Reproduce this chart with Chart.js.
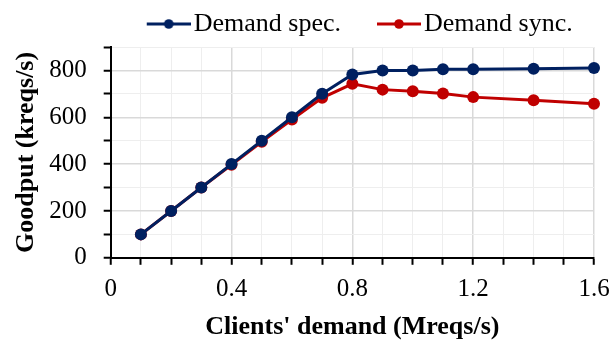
<!DOCTYPE html>
<html>
<head>
<meta charset="utf-8">
<script src="https://cdn.jsdelivr.net/npm/chart.js@4/dist/chart.umd.min.js"></script>
<style>
  html, body { margin: 0; padding: 0; background: #fff; }
  #wrap { width: 611px; height: 343px; }
</style>
</head>
<body>
<div id="wrap"><canvas id="c" width="611" height="343"></canvas></div>
<script>
// Client demand (Mreqs/s) on the x axis
const demand = [0.1, 0.2, 0.3, 0.4, 0.5, 0.6, 0.7, 0.8, 0.9, 1.0, 1.1, 1.2, 1.4, 1.6];
// Goodput (kreqs/s) for each scheme
const specGoodput = [100, 200, 300, 400, 500, 600, 700, 783, 800, 800, 805, 805, 807, 810];
const syncGoodput = [100, 200, 300, 397, 495, 590, 683, 743, 718, 711, 701, 686, 673, 658];
const seriesNames = ['Demand spec.', 'Demand sync.'];
// Labelled ticks
const xTickLabels = ['0', '0.4', '0.8', '1.2', '1.6'];
const yTickLabels = ['0', '200', '400', '600', '800'];

const BLUE = '#002060';
const RED = '#c00000';
const SERIF = "'Liberation Serif', 'Times New Roman', serif";

// Legend marker: a short line with a dot, drawn on a small canvas
function legendMarker(color) {
  const cv = document.createElement('canvas');
  cv.width = 85; cv.height = 14;
  const g = cv.getContext('2d');
  g.strokeStyle = color;
  g.lineWidth = 3;
  g.beginPath();
  g.moveTo(41, 7); g.lineTo(85, 7);
  g.stroke();
  g.fillStyle = color;
  g.beginPath();
  g.arc(63, 7, 4.8, 0, Math.PI * 2);
  g.fill();
  return cv;
}
const markers = [legendMarker(BLUE), legendMarker(RED)];

function toPoints(ys) {
  return demand.map((x, i) => ({ x: x, y: ys[i] }));
}

function xLabel(v) {
  const hit = xTickLabels.find(l => Math.abs(parseFloat(l) - v) < 1e-6);
  return hit === undefined ? '' : hit;
}
function yLabel(v) {
  const hit = yTickLabels.find(l => Math.abs(parseFloat(l) - v) < 1e-6);
  return hit === undefined ? '' : hit;
}
const isMajorX = v => Math.round(v * 10) % 4 === 0;
const isMajorY = v => Math.round(v) % 200 === 0;

const lineStyle = color => ({
  borderColor: color,
  backgroundColor: color,
  borderWidth: 3,
  pointRadius: 6,
  pointHoverRadius: 6,
  pointBackgroundColor: color,
  pointBorderColor: color,
  pointBorderWidth: 0,
  tension: 0,
  clip: false,
  fill: false
});

new Chart(document.getElementById('c'), {
  type: 'line',
  data: {
    datasets: [
      Object.assign({ label: seriesNames[0], data: toPoints(specGoodput) }, lineStyle(BLUE)),
      Object.assign({ label: seriesNames[1], data: toPoints(syncGoodput) }, lineStyle(RED))
    ]
  },
  options: {
    responsive: false,
    animation: false,
    devicePixelRatio: 1,
    layout: { padding: 0 },
    plugins: {
      tooltip: { enabled: false },
      legend: {
        display: true,
        position: 'top',
        align: 'start',
        fullSize: false,
        labels: {
          usePointStyle: true,
          pointStyleWidth: 65,
          padding: 5,
          color: '#000',
          font: { family: SERIF, size: 26 },
          generateLabels: chart => {
            const items = Chart.defaults.plugins.legend.labels.generateLabels(chart);
            return items.map((it, i) => Object.assign(it, { pointStyle: markers[i] }));
          }
        }
      }
    },
    scales: {
      x: {
        type: 'linear',
        min: 0,
        max: 1.6,
        border: { display: true, color: '#000', width: 2 },
        grid: {
          color: c => isMajorX(c.tick.value) ? '#d9d9d9' : '#eeeeee',
          lineWidth: c => isMajorX(c.tick.value) ? 1.5 : 1,
          drawTicks: true,
          tickLength: 7,
          tickColor: '#000',
          tickWidth: 2
        },
        ticks: {
          stepSize: 0.1,
          autoSkip: false,
          maxRotation: 0,
          padding: 10,
          color: '#000',
          font: { family: SERIF, size: 25 },
          callback: v => xLabel(v)
        },
        title: {
          display: true,
          text: "Clients' demand (Mreqs/s)",
          color: '#000',
          font: { family: SERIF, size: 26, weight: 'bold' },
          padding: { top: -3, bottom: 0 }
        },
        // room on the right for the last tick label only
        afterFit: scale => { scale.paddingRight = 17; }
      },
      y: {
        type: 'linear',
        min: 0,
        max: 900,
        border: { display: true, color: '#000', width: 2 },
        grid: {
          color: c => isMajorY(c.tick.value) ? '#d9d9d9' : '#eeeeee',
          lineWidth: c => isMajorY(c.tick.value) ? 1.5 : 1,
          drawTicks: true,
          tickLength: 7,
          tickColor: '#000',
          tickWidth: 2
        },
        ticks: {
          stepSize: 100,
          autoSkip: false,
          padding: 17,
          color: '#000',
          font: { family: SERIF, size: 25 },
          callback: v => yLabel(v)
        },
        title: {
          display: true,
          text: 'Goodput (kreqs/s)',
          color: '#000',
          font: { family: SERIF, size: 26, weight: 'bold' },
          padding: { top: 11, bottom: -10 }
        },
        // keep the plot top below the legend row
        afterFit: scale => { scale.paddingTop = 47; }
      }
    }
  }
});
</script>
</body>
</html>
